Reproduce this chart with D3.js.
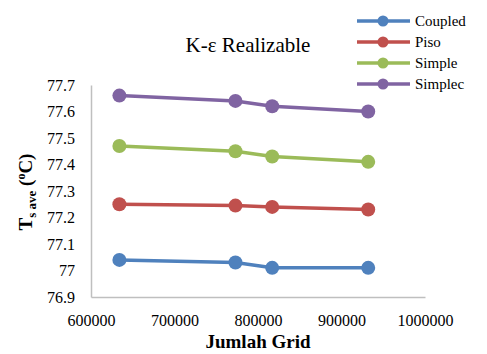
<!DOCTYPE html>
<html lang="en">
<head>
<meta charset="utf-8">
<title>K-ε Realizable</title>
<script src="https://cdn.jsdelivr.net/npm/d3@7"></script>
<style>
  body { margin: 0; background: #fff; }
  svg text { font-family: "Times New Roman", "Liberation Serif", Tinos, "DejaVu Serif", serif !important; fill: #000; }
  .axis path { stroke: #bfbfbf; stroke-width: 1.5px; }
  .axis text { font-size: 16px; }
  .title { font-size: 21px; text-anchor: middle; }
  .axis-title { font-size: 19px; font-weight: bold; text-anchor: middle; }
  .legend text { font-size: 15px; }
</style>
</head>
<body>
<div id="chart"></div>
<script>
var grid = [634000, 773000, 817000, 932000];
var seriesNames = ["Coupled", "Piso", "Simple", "Simplec"];
var coupled = [77.04, 77.03, 77.01, 77.01];
var piso = [77.25, 77.245, 77.24, 77.23];
var simple = [77.47, 77.45, 77.43, 77.41];
var simplec = [77.66, 77.64, 77.62, 77.60];
var colors = ["#4F81BD", "#C0504D", "#9BBB59", "#8064A2"];
var xTicks = [600000, 700000, 800000, 900000, 1000000];
var yTicks = [76.9, 77, 77.1, 77.2, 77.3, 77.4, 77.5, 77.6, 77.7];

var width = 487, height = 354;
var margin = {left: 91, right: 62, top: 85, bottom: 57};

var svg = d3.select("#chart").append("svg")
  .attr("width", width).attr("height", height);

var x = d3.scaleLinear().domain([600000, 1000000]).range([margin.left, width - margin.right]);
var y = d3.scaleLinear().domain([76.9, 77.7]).range([height - margin.bottom, margin.top]);

svg.append("g")
  .attr("class", "x axis")
  .attr("transform", "translate(0," + (height - margin.bottom) + ")")
  .call(d3.axisBottom(x).tickValues(xTicks).tickSize(0).tickPadding(18).tickFormat(d3.format("d")))
  .call(function(g){ g.attr("font-family", null).selectAll(".tick line").remove(); });

svg.append("g")
  .attr("class", "y axis")
  .attr("transform", "translate(" + margin.left + ",0)")
  .call(d3.axisLeft(y).tickValues(yTicks).tickSize(0).tickPadding(16).tickFormat(function(d){ return d3.format("")(+d.toFixed(1)); }))
  .call(function(g){ g.attr("font-family", null).selectAll(".tick line").remove(); });

var data = [coupled, piso, simple, simplec];
var line = d3.line().x(function(d, i){ return x(grid[i]); }).y(function(d){ return y(d); });

data.forEach(function(vals, k) {
  svg.append("path")
    .datum(vals)
    .attr("d", line)
    .attr("fill", "none")
    .attr("stroke", colors[k])
    .attr("stroke-width", 3.5);
  svg.selectAll(".pt" + k)
    .data(vals)
    .enter().append("circle")
    .attr("cx", function(d, i){ return x(grid[i]); })
    .attr("cy", function(d){ return y(d); })
    .attr("r", 7)
    .attr("fill", colors[k]);
});

svg.append("text").attr("class", "title")
  .attr("x", 248).attr("y", 52)
  .text("K-ε Realizable");

svg.append("text").attr("class", "axis-title")
  .attr("x", (margin.left + width - margin.right) / 2).attr("y", 348)
  .text("Jumlah Grid");

var yt = svg.append("text").attr("class", "axis-title")
  .attr("transform", "translate(32,192) rotate(-90)");
yt.append("tspan").text("T");
yt.append("tspan").attr("font-size", "13px").attr("dy", 4).text("s ave");
yt.append("tspan").attr("dy", -4).text(" (");
yt.append("tspan").attr("font-size", "12px").attr("dy", -7).text("o");
yt.append("tspan").attr("dy", 7).text("C)");

var legend = svg.append("g").attr("class", "legend");
seriesNames.forEach(function(name, k) {
  var ly = 21 + k * 21;
  legend.append("line")
    .attr("x1", 357).attr("x2", 410).attr("y1", ly).attr("y2", ly)
    .attr("stroke", colors[k]).attr("stroke-width", 3.5);
  legend.append("circle")
    .attr("cx", 383).attr("cy", ly).attr("r", 5.5).attr("fill", colors[k]);
  legend.append("text")
    .attr("x", 415).attr("y", ly + 5)
    .text(name);
});
</script>
</body>
</html>
